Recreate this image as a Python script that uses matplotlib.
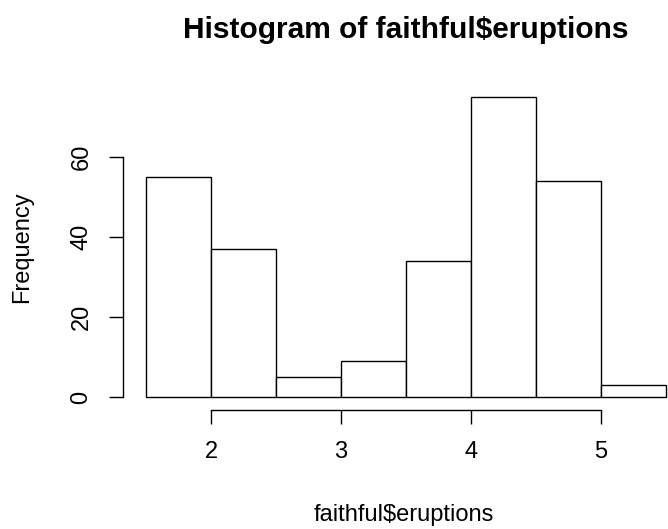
import matplotlib
matplotlib.use('Agg')
import matplotlib.pyplot as plt
import numpy as np

plt.rcParams['font.family'] = ['Liberation Sans', 'DejaVu Sans']

# histogram of faithful$eruptions (R default breaks)
breaks = [1.5, 2.0, 2.5, 3.0, 3.5, 4.0, 4.5, 5.0, 5.5]
counts = [55, 37, 5, 9, 34, 75, 54, 3]
x_ticks = [2, 3, 4, 5]
y_ticks = [0, 20, 40, 60]

W, H = 668, 529
fig = plt.figure(figsize=(W / 100, H / 100), dpi=100)

# axes box in pixels: left at y-axis line, bottom at x-axis line
left_px, right_px, top_px, bottom_px = 123, 668, 60, 410
ax = fig.add_axes([left_px / W, (H - bottom_px) / H,
                   (right_px - left_px) / W, (bottom_px - top_px) / H])

px_per_x = 130.0
x0_px = 146  # pixel of 1.5
px_per_y = 4.0
y0_px = 397  # pixel of 0
ax.set_xlim(1.5 - (x0_px - left_px) / px_per_x, 1.5 + (right_px - x0_px) / px_per_x)
ax.set_ylim(-(bottom_px - y0_px) / px_per_y, (y0_px - top_px) / px_per_y)

widths = np.diff(breaks)
ax.bar(breaks[:-1], counts, width=widths, align='edge', facecolor='white',
       edgecolor='black', linewidth=1.0, clip_on=False)

for s in ['top', 'right']:
    ax.spines[s].set_visible(False)
ax.spines['left'].set_bounds(0, 60)
ax.spines['bottom'].set_bounds(2, 5)
for s in ['left', 'bottom']:
    ax.spines[s].set_linewidth(1.0)

ax.set_xticks(x_ticks)
ax.set_yticks(y_ticks)
ax.set_yticklabels([str(v) for v in y_ticks], rotation=90, va='center')
ax.tick_params(axis='both', length=10, width=1.0, labelsize=17, color='black')
ax.tick_params(axis='x', pad=12)
ax.tick_params(axis='y', pad=12)

fig.text(406 / W, 1 - 30 / H, 'Histogram of faithful$eruptions', ha='center', va='center',
         fontsize=21.5, fontweight='bold')
fig.text(404 / W, 1 - 515 / H, 'faithful$eruptions', ha='center', va='center', fontsize=17)
fig.text(22 / W, 1 - 247 / H, 'Frequency', ha='center', va='center', rotation=90, fontsize=17)

fig.savefig('out.png', dpi=100)
